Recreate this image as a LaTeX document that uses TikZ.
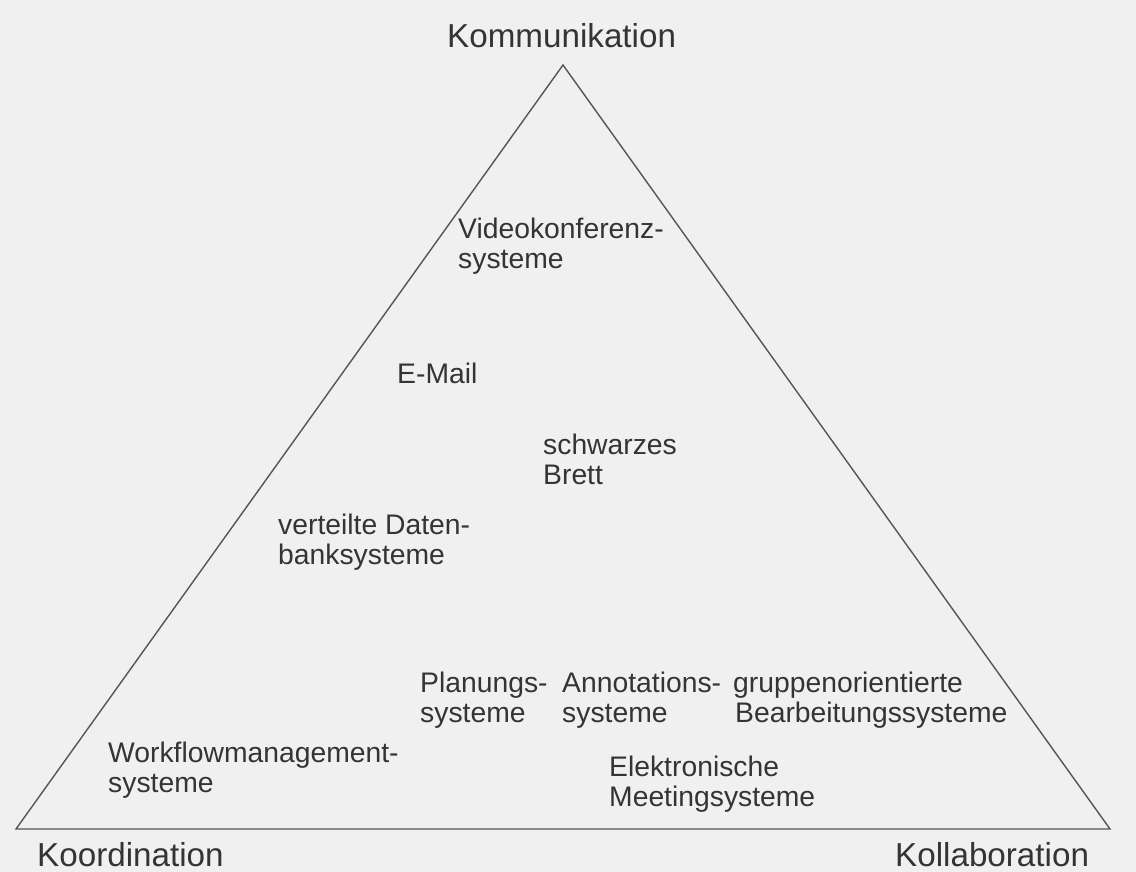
\documentclass[tikz,border=0pt]{standalone}
\usepackage{fontspec}
\setmainfont{Liberation Sans}
\definecolor{paper}{RGB}{240,240,240}
\definecolor{ink}{RGB}{52,52,52}
\definecolor{edge}{RGB}{85,85,85}
\begin{document}
\begin{tikzpicture}[x=1pt,y=-1pt,
  corner/.style={inner sep=0pt,anchor=base west,text=ink,font=\fontsize{33.2}{36}\selectfont},
  % for two-line entries the base anchor sits on the second line
  entry/.style={inner sep=0pt,anchor=base west,align=left,text=ink,font=\fontsize{28.3}{29.5}\selectfont},
  side/.style={draw=edge,line width=1.4pt,line join=miter}]
  % paper
  \fill[paper] (0,0) rectangle (1136,872);
  \useasboundingbox (0,0) rectangle (1136,872);
  % triangle corners
  \coordinate (top) at (563,65);
  \coordinate (left) at (16,829);
  \coordinate (right) at (1110,829);
  \draw[side] (top) -- (right) -- (left) -- cycle;
  % corner labels
  \node[corner] (komm) at (447,48) {Kommunikation};
  \node[corner] (koord) at (37,866) {Koordination};
  \node[corner] (koll) at (895,866) {Kollaboration};
  % systems inside the triangle
  \node[entry] (video) at (458,268) {Videokonferenz-\\systeme};
  \node[entry] (mail) at (397,383) {E-Mail};
  \node[entry] (brett) at (543,484) {schwarzes\\Brett};
  \node[entry] (db) at (278,564) {verteilte Daten-\\banksysteme};
  \node[entry] (plan) at (420,722) {Planungs-\\systeme};
  \node[entry] (anno) at (562,722) {Annotations-\\systeme};
  \node[entry] (grp) at (733,722) {gruppenorientierte\\\hspace*{2pt}Bearbeitungssysteme};
  \node[entry] (wf) at (108,792) {Workflowmanagement-\\systeme};
  \node[entry] (meet) at (609,806) {Elektronische\\Meetingsysteme};
\end{tikzpicture}
\end{document}
